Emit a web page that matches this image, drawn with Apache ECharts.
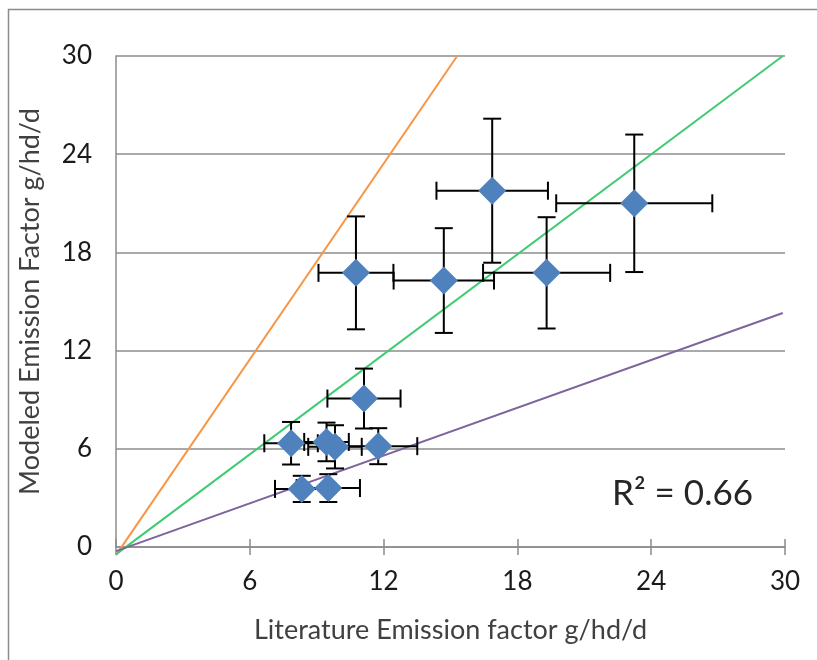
<!DOCTYPE html>
<html>
<head>
<meta charset="utf-8">
<script src="https://cdn.jsdelivr.net/npm/echarts@6/dist/echarts.min.js"></script>
<style>
html,body{margin:0;padding:0;background:#fff;}
#chart{width:817px;height:660px;}
</style>
</head>
<body>
<div id="chart"></div>
<script>
// Data
var xVals = [10.76, 14.7, 16.87, 19.31, 23.24, 11.12, 7.85, 9.44, 9.82, 11.76, 8.33, 9.52];
var yVals = [16.75, 16.28, 21.77, 16.75, 21.0, 9.07, 6.34, 6.42, 6.12, 6.16, 3.55, 3.6];
var xErr  = [1.68, 2.25, 2.5, 2.85, 3.5, 1.64, 1.2, 1.0, 1.2, 1.75, 1.2, 1.42];
var yErr  = [3.45, 3.2, 4.4, 3.4, 4.2, 1.83, 1.3, 1.18, 1.32, 1.1, 0.8, 0.85];
var orangeLine = [[0, -0.5], [15.3, 30]];
var greenLine  = [[0, -0.45], [29.9, 30]];
var purpleLine = [[0, -0.25], [29.9, 14.3]];
var tickLabels = [0, 6, 12, 18, 24, 30];
var xTitle = 'Literature Emission factor g/hd/d';
var yTitle = 'Modeled Emission Factor g/hd/d';
var r2Text = 'R\u00B2 = 0.66';

var FONT = 'Lato';
var points = xVals.map(function (x, i) { return [x, yVals[i], xErr[i], yErr[i]]; });

var chart = echarts.init(document.getElementById('chart'), null, {renderer: 'canvas'});
var axisGray = '#8c8c8c';
var CAP = 9;

function errRender(params, api) {
  var x = api.value(0), y = api.value(1), ex = api.value(2), ey = api.value(3);
  var c = api.coord([x, y]);
  var l = api.coord([x - ex, y]), r = api.coord([x + ex, y]);
  var t = api.coord([x, y + ey]), b = api.coord([x, y - ey]);
  var st = {stroke: '#000', lineWidth: 2};
  return {
    type: 'group',
    children: [
      {type: 'line', shape: {x1: l[0], y1: c[1], x2: r[0], y2: c[1]}, style: st},
      {type: 'line', shape: {x1: l[0], y1: c[1] - CAP, x2: l[0], y2: c[1] + CAP}, style: st},
      {type: 'line', shape: {x1: r[0], y1: c[1] - CAP, x2: r[0], y2: c[1] + CAP}, style: st},
      {type: 'line', shape: {x1: c[0], y1: t[1], x2: c[0], y2: b[1]}, style: st},
      {type: 'line', shape: {x1: c[0] - CAP, y1: t[1], x2: c[0] + CAP, y2: t[1]}, style: st},
      {type: 'line', shape: {x1: c[0] - CAP, y1: b[1], x2: c[0] + CAP, y2: b[1]}, style: st}
    ]
  };
}

var labelStyle = {fontFamily: FONT, fontSize: 26, color: '#1a1a1a'};

chart.setOption({
  animation: false,
  backgroundColor: '#fff',
  grid: {left: 116, right: 32, top: 56, bottom: 113},
  xAxis: [{
    type: 'value', min: 0, max: 30, interval: 6,
    axisLine: {show: true, lineStyle: {color: axisGray, width: 1.5}},
    axisTick: {show: true, length: 8, lineStyle: {color: axisGray, width: 1.5}},
    axisLabel: Object.assign({margin: 22, formatter: function (v) { return tickLabels.indexOf(v) >= 0 ? String(v) : ''; }}, labelStyle),
    splitLine: {show: false},
    name: xTitle, nameLocation: 'middle', nameGap: 70,
    nameTextStyle: {fontFamily: FONT, fontSize: 27, color: '#404040'}
  }, {
    type: 'value', min: 0, max: 30, interval: 6, position: 'bottom',
    axisLine: {show: false},
    axisTick: {show: true, inside: true, length: 8, lineStyle: {color: axisGray, width: 1.5}},
    axisLabel: {show: false}, splitLine: {show: false}
  }],
  yAxis: {
    type: 'value', min: 0, max: 30, interval: 6,
    axisLine: {show: true, lineStyle: {color: axisGray, width: 1.5}},
    axisTick: {show: false},
    axisLabel: Object.assign({margin: 24}, labelStyle),
    splitLine: {show: true, lineStyle: {color: axisGray, width: 1.5}},
    name: yTitle, nameLocation: 'middle', nameGap: 72,
    nameTextStyle: {fontFamily: FONT, fontSize: 27, color: '#404040'}
  },
  graphic: [
    {type: 'rect', left: 6, top: 7, shape: {width: 840, height: 700}, style: {fill: 'none', stroke: '#8c8c8c', lineWidth: 1.5}, silent: true, z: -1},
    {type: 'text', left: 612, top: 476, style: {text: r2Text, fontFamily: FONT, fontSize: 35, fill: '#262626'}}
  ],
  series: [
    {type: 'line', data: orangeLine, symbol: 'none', clip: false, lineStyle: {color: '#f79646', width: 2}, z: 1},
    {type: 'line', data: greenLine, symbol: 'none', clip: false, lineStyle: {color: '#3fcb71', width: 2}, z: 1},
    {type: 'line', data: purpleLine, symbol: 'none', clip: false, lineStyle: {color: '#7e649e', width: 2}, z: 1},
    {type: 'custom', data: points, renderItem: errRender, clip: false, z: 2},
    {type: 'scatter', data: points, symbol: 'diamond', symbolSize: [28, 28], itemStyle: {color: '#4f81bd', opacity: 1}, z: 3}
  ]
});
</script>
</body>
</html>
